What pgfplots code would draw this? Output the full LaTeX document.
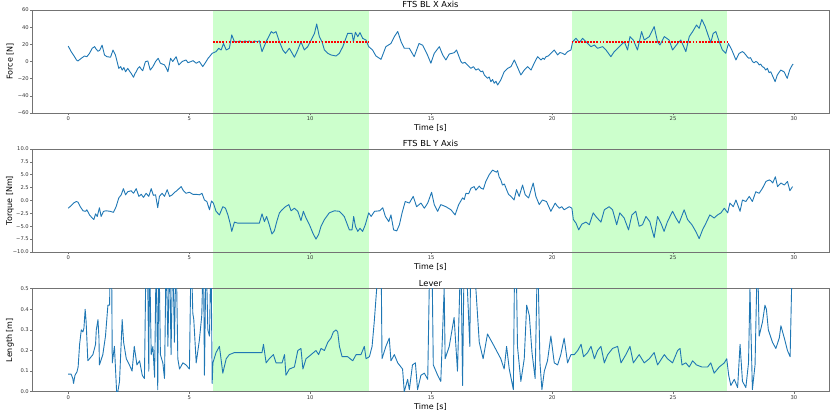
\documentclass[border=0pt]{standalone}
\usepackage{fontspec}
\setmainfont{DejaVu Sans}
\usepackage{pgfplots}
\pgfplotsset{compat=1.18}
\definecolor{mplblue}{RGB}{31,119,180}
\definecolor{mplred}{RGB}{255,0,0}
\definecolor{spangreen}{RGB}{204,255,204}
\pgfplotsset{panel/.style={
  scale only axis, width=797pt, height=103pt, anchor=south west,
  xmin=-1.4975, xmax=31.447,
  xtick={0,5,...,30},
  tick pos=left, tick align=outside, major tick length=2pt,
  axis line style={draw=black!55, line width=0.8pt},
  every tick/.style={black!55, line width=0.6pt},
  tick label style={font=\fontsize{5.2}{6}\selectfont, text=black!80},
  xticklabel style={anchor=north, inner sep=0pt, yshift=-1.5pt},
  yticklabel style={anchor=east, inner sep=0pt, xshift=-1pt},
  /pgf/number format/assume math mode=true,
  xlabel={Time [s]},
  xlabel style={at={(axis description cs:0.5,-0.146)}, anchor=center, font=\fontsize{8}{10}\selectfont},
  ylabel style={at={(axis description cs:-0.0276,0.5)}, anchor=center, font=\fontsize{8}{10}\selectfont},
  every axis title/.style={at={(axis description cs:0.5,1)}, anchor=south, inner sep=0pt, yshift=1.8pt, font=\fontsize{8.3}{10}\selectfont},
  line/.style={mplblue, line width=0.9pt, line join=round},
  meanline/.style={mplred, line width=1.7pt, dash pattern=on 1.8pt off 1.3pt},
}}
\begin{document}
\begin{tikzpicture}
\useasboundingbox (0,0) rectangle (831pt,410pt);
% ---------- top ----------
\begin{axis}[panel, at={(32pt,297pt)}, clip=false, axis on top,
  ymin=-60, ymax=60, ytick={-60,-40,-20,0,20,40,60},
  yticklabels={−60,−40,−20,0,20,40,60},
  ylabel={Force [N]}, title={FTS BL X Axis}]
\addplot[fill=spangreen, draw=none] coordinates {(5.99,60) (12.42,60) (12.42,-384.7) (5.99,-384.7)} -- cycle;
\addplot[fill=spangreen, draw=none] coordinates {(20.81,60) (27.25,60) (27.25,-384.7) (20.81,-384.7)} -- cycle;
\addplot[line] coordinates {
(0,18) (0.12,11.5) (0.26,5.6) (0.34,1.8) (0.4,0.6) (0.54,3.7) (0.67,6.4) (0.77,5.6) (0.88,9.5) (0.99,15.4) (1.09,17.3)
(1.16,14.2) (1.23,12) (1.3,13) (1.4,19) (1.5,7.6) (1.6,5.6) (1.75,5) (1.85,13.4) (1.95,7.6) (2.09,-8)
(2.17,-6) (2.23,-10) (2.3,-7) (2.37,-12) (2.46,-8) (2.53,-11) (2.6,-13.8) (2.7,-18.4) (2.76,-14) (2.81,-12) (2.88,-8) (2.95,-6) (3.02,-9) (3.08,-10.7) (3.19,-0.2) (3.29,0.6)
(3.39,-10) (3.5,-6) (3.61,0) (3.72,3.7) (3.81,-2) (3.98,-4) (4.06,-8) (4.12,-12) (4.23,3.7) (4.32,0) (4.46,5.6)
(4.57,-4) (4.71,0) (4.87,1.8) (4.95,-1.4) (5.08,0) (5.16,1) (5.29,-2) (5.42,0) (5.56,-6) (5.7,0) (5.78,3.7) (5.84,5.6) (5.95,9.5)
(6.11,11.5) (6.22,15.4) (6.32,13.4) (6.42,21) (6.53,13.4) (6.66,15.4) (6.76,31) (6.87,23) (7.0,23) (7.1,24)
(7.2,22) (7.3,24) (7.4,23) (7.5,24) (7.6,22) (7.7,24) (7.8,23) (7.9,24) (8.01,11.5) (8.18,23)
(8.39,34.8) (8.48,33) (8.59,34.8) (8.73,23) (8.87,13.4) (8.98,9.5) (9.14,15.4) (9.35,5) (9.49,13.4) (9.62,23)
(9.76,13.4) (9.9,17.3) (10.04,25) (10.18,32.8) (10.27,43.7) (10.38,29) (10.49,23) (10.59,13.4) (10.73,9.5) (10.86,7.6)
(11.07,6.4) (11.21,9.5) (11.35,17.3) (11.55,32.8) (11.73,32.8) (11.79,23) (11.87,34) (11.97,29) (12.06,33.7) (12.17,27)
(12.31,25) (12.42,17.3) (12.58,13.4) (12.72,6.4) (12.93,2.5) (13.13,17.3) (13.34,21) (13.48,29) (13.62,35) (13.76,23)
(13.89,15.4) (14.1,15.4) (14.3,5.6) (14.5,21) (14.65,19) (14.85,7.6) (14.99,-2) (15.13,9.5) (15.34,17.3) (15.48,7.6)
(15.61,1.8) (15.75,8.7) (15.96,10.3) (16.05,13.4) (16.23,0) (16.3,-2) (16.4,-1) (16.5,-4) (16.64,-8) (16.75,-6) (16.85,-10) (16.95,-8.5) (17.06,-12) (17.13,-11) (17.2,-15.7)
(17.33,-19.6) (17.4,-18) (17.47,-23.5) (17.54,-21) (17.61,-25.4) (17.68,-23) (17.75,-27.4) (17.88,-21.5) (18.02,-12) (18.09,-10) (18.16,-8) (18.3,-6) (18.44,1.8) (18.53,-4)
(18.71,-15.7) (18.85,-10) (18.99,-6) (19.13,-10) (19.26,-2) (19.4,5.6) (19.54,1.8) (19.62,4) (19.68,2.5) (19.75,5.6) (19.85,6.5) (19.95,9.5) (20.09,13.4)
(20.23,7.6) (20.33,10.5) (20.43,9.5) (20.53,8) (20.64,11.5) (20.78,13.4) (20.85,23) (20.99,27) (21.13,22) (21.26,27) (21.4,23) (21.61,17.3)
(21.75,19.2) (21.88,15.4) (22.09,17.3) (22.23,13.4) (22.43,5.6) (22.57,11.5) (22.78,17.3) (22.99,23) (23.12,13.4) (23.22,29)
(23.36,25) (23.53,13.4) (23.7,34.8) (23.81,25) (24.02,29) (24.22,40.6) (24.36,23) (24.46,19.2) (24.64,29) (24.84,25)
(24.98,13.4) (25.19,21) (25.32,25) (25.53,11.5) (25.67,29) (25.81,34.8) (25.97,42.5) (26.08,38.6) (26.19,49) (26.33,40.6)
(26.47,29) (26.56,22) (26.66,32.8) (26.77,34.8) (26.91,23) (27.04,13.4) (27.18,9.5) (27.29,21) (27.43,13.4) (27.6,1.8)
(27.73,9.5) (27.87,11.5) (27.94,10) (28.01,7.6) (28.08,5) (28.14,3.7) (28.2,4.5) (28.28,0) (28.35,-1.5) (28.42,0) (28.49,-1) (28.56,-4) (28.62,-3) (28.69,-6) (28.76,-7) (28.83,-10) (28.9,-8) (28.97,-13) (29.04,-12)
(29.22,-23.5) (29.31,-15.7) (29.45,-10) (29.59,-12) (29.72,-19.6) (29.82,-10) (29.93,-4) (29.97,-3)
};
\addplot[meanline] coordinates {(5.99,22.5) (12.42,22.5)};
\addplot[meanline] coordinates {(20.81,22.5) (27.25,22.5)};
\end{axis}
% ---------- middle ----------
\begin{axis}[panel, at={(32pt,158pt)},
  ymin=-10, ymax=10, ytick={-10,-7.5,-5,-2.5,0,2.5,5,7.5,10},
  yticklabels={−10.0,−7.5,−5.0,−2.5,0.0,2.5,5.0,7.5,10.0},
  ylabel={Torque [Nm]}, title={FTS BL Y Axis}]
\addplot[line] coordinates {
(0,-1.5) (0.12,-1) (0.22,-0.5) (0.33,-0.2) (0.4,-0.3) (0.5,-1.2) (0.61,-2) (0.72,-2.1) (0.77,-1.8) (0.88,-2.8)
(0.99,-3.4) (1.06,-3.7) (1.13,-2.6) (1.2,-3.1) (1.29,-1.4) (1.36,-3.1) (1.46,-2.1) (1.57,-2) (1.73,-2.1) (1.87,-2.3)
(1.98,-1.2) (2.09,0.5) (2.19,1.1) (2.28,2.3) (2.37,1.1) (2.46,1.7) (2.6,1.9) (2.7,1.4) (2.81,2.3) (2.92,0.8)
(3.02,1.2) (3.11,0.6) (3.22,1.4) (3.33,0.8) (3.43,2.3) (3.52,1.0) (3.61,1.1) (3.7,-1.4) (3.77,0.8) (3.88,1.4)
(3.98,0.8) (4.09,2.1) (4.19,0.8) (4.3,1.1) (4.4,1.6) (4.49,1.9) (4.6,2.4) (4.67,2.7) (4.76,1.9) (4.87,1.4)
(5.01,1.6) (5.15,1.2) (5.29,1.2) (5.42,1.1) (5.53,1.4) (5.63,0.1) (5.73,-0.2) (5.84,-1.8) (5.92,-0.1) (6.0,-0.5)
(6.11,-2.1) (6.25,-2.8) (6.39,-1.2) (6.5,-1.5) (6.6,-2.8) (6.69,-4.4) (6.76,-6) (6.87,-4.2) (7.01,-4.4) (7.21,-4.4)
(7.5,-4.4) (7.9,-4.4) (8.01,-2.6) (8.11,-4.1) (8.2,-3.1) (8.31,-4.7) (8.42,-6.5) (8.52,-5.9) (8.62,-4.1) (8.73,-2.4)
(8.84,-1.8) (8.98,-1.2) (9.12,-0.8) (9.21,-2) (9.35,-1.5) (9.49,-2.1) (9.62,-3.9) (9.72,-2.1) (9.83,-3.4) (9.97,-4.7)
(10.11,-6.3) (10.24,-7.5) (10.35,-6.6) (10.45,-5) (10.59,-3.7) (10.79,-2.4) (11.0,-2) (11.21,-2.1) (11.41,-3.1) (11.62,-5.7)
(11.73,-5.7) (11.8,-3.1) (11.87,-5) (11.97,-6) (12.06,-5.4) (12.17,-6) (12.28,-4.7) (12.42,-2.4) (12.52,-3.1) (12.66,-2.1)
(12.87,-2) (13.0,-1.4) (13.11,-3.1) (13.25,-4.1) (13.34,-2.8) (13.45,-5.7) (13.58,-5.9) (13.69,-4.7) (13.8,-2.4) (13.93,-0.2)
(14.1,-0.5) (14.26,0.8) (14.4,-1.2) (14.58,-0.5) (14.72,-1.5) (14.86,-0.5) (15.02,1.6) (15.13,-0.8) (15.27,-2.1) (15.4,-0.8)
(15.61,-1.2) (15.82,-1.8) (15.99,-2.8) (16.14,-0.8) (16.3,0.5) (16.37,0.2) (16.44,1.4) (16.55,1.3) (16.65,2.4) (16.78,2.7) (16.85,2.0) (16.92,2.4) (16.99,2.8) (17.06,2.4) (17.16,2.2)
(17.26,3.7) (17.4,5.0) (17.54,5.9) (17.7,5.5) (17.75,5.8) (17.81,4.6) (17.88,4.0) (17.95,3.0) (18.03,3.2) (18.12,2.1) (18.2,1.2) (18.3,0.8) (18.43,0.1) (18.53,2.1)
(18.64,0.8) (18.78,3.0) (18.89,1.1) (19.03,0.5) (19.22,3.4) (19.33,0.8) (19.47,-0.8) (19.6,0.1) (19.77,-0.2) (19.95,-2.1)
(20.13,-0.5) (20.2,-1.0) (20.3,-1.5) (20.4,-1.2) (20.5,-1.8) (20.71,-1.2) (20.82,-1.5) (20.88,-3.7) (20.99,-4.4) (21.1,-5.7) (21.23,-4.6) (21.4,-4.2)
(21.54,-4.7) (21.7,-2.4) (21.81,-3.1) (22.02,-4.2) (22.16,-1.8) (22.36,-1.2) (22.5,-1.8) (22.67,-4.7) (22.8,-2.4) (22.98,-3.4)
(23.16,-5.7) (23.3,-2.8) (23.46,-2.1) (23.6,-5) (23.74,-4.7) (23.88,-3.1) (24.04,-4.1) (24.22,-7.2) (24.36,-3.1) (24.5,-4.4)
(24.63,-6) (24.77,-4.1) (24.98,-2.1) (25.12,-3.4) (25.25,-4.4) (25.46,-1.8) (25.6,-3.7) (25.78,-4.7) (25.94,-6) (26.08,-7.4)
(26.22,-5.7) (26.36,-4.4) (26.52,-2.8) (26.7,-3.4) (26.84,-2.8) (26.98,-2.4) (27.12,-1.5) (27.26,-2.4) (27.35,-0.5) (27.49,-1.2)
(27.6,0.1) (27.77,-2.1) (27.87,0.1) (28.01,-0.2) (28.15,0.8) (28.28,-0.2) (28.42,1.7) (28.56,1.4) (28.7,2.4) (28.84,3.7)
(28.98,4.0) (29.05,3.8) (29.12,3.4) (29.23,4.6) (29.32,2.7) (29.46,3.4) (29.6,3.0) (29.73,3.7) (29.83,1.9) (29.94,2.7)
};
\end{axis}
% ---------- bottom ----------
\begin{axis}[panel, at={(32pt,18.3pt)},
  ymin=0, ymax=0.5, ytick={0,0.1,0.2,0.3,0.4,0.5},
  yticklabels={0.0,0.1,0.2,0.3,0.4,0.5},
  ylabel={Length [m]}, title={Lever}]
\addplot[line] coordinates {
(0,0.085) (0.12,0.085) (0.19,0.064) (0.22,0.04) (0.28,0.08) (0.36,0.096) (0.41,0.12) (0.47,0.23) (0.54,0.30) (0.61,0.29)
(0.65,0.31) (0.7,0.40) (0.74,0.34) (0.81,0.15) (1.02,0.18) (1.13,0.23) (1.16,0.30) (1.23,0.35) (1.27,0.26) (1.29,0.13)
(1.43,0.18) (1.54,0.27) (1.64,0.42) (1.71,0.42) (1.74,0.7) (1.79,0.7) (1.82,0.14) (1.91,0.22) (2.0,0.0) (2.05,0.0)
(2.12,0.05) (2.23,0.35) (2.29,0.24) (2.4,0.16) (2.53,0.13) (2.64,0.10) (2.73,0.22) (2.84,0.13) (2.95,0.15) (3.06,0.08)
(3.15,0.064) (3.22,0.7) (3.29,0.5) (3.33,0.1) (3.36,0.7) (3.43,0.18) (3.5,0.22) (3.57,0.07) (3.64,0.7) (3.7,0.01)
(3.75,0.7) (3.81,0.18) (3.91,0.14) (3.98,0.064) (4.05,0.7) (4.12,0.22) (4.19,0.7) (4.25,0.18) (4.32,0.7) (4.39,0.24)
(4.46,0.7) (4.53,0.16) (4.6,0.11) (4.74,0.14) (4.87,0.13) (5.01,0.11) (5.08,0.7) (5.15,0.38) (5.19,0.35) (5.29,0.14)
(5.42,0.25) (5.52,0.37) (5.59,0.7) (5.63,0.08) (5.7,0.7) (5.77,0.30) (5.84,0.27) (5.9,0.7) (5.95,0.04) (5.98,0.14)
(6.11,0.19) (6.25,0.22) (6.39,0.09) (6.53,0.16) (6.66,0.18) (6.87,0.19) (8.01,0.19) (8.07,0.23) (8.18,0.14) (8.31,0.16)
(8.48,0.18) (8.59,0.14) (8.84,0.14) (8.94,0.18) (9.0,0.08) (9.14,0.11) (9.35,0.12) (9.49,0.2) (9.62,0.21) (9.7,0.11)
(9.83,0.16) (10.04,0.18) (10.24,0.2) (10.35,0.18) (10.45,0.21) (10.59,0.2) (10.73,0.24) (10.86,0.26) (10.96,0.29) (11.07,0.3)
(11.14,0.29) (11.21,0.22) (11.32,0.17) (11.55,0.17) (11.76,0.15) (11.9,0.18) (12.1,0.18) (12.24,0.22) (12.31,0.16) (12.45,0.17)
(12.56,0.22) (12.65,0.34) (12.75,0.5) (12.79,0.7) (12.93,0.7) (12.97,0.16) (13.13,0.22) (13.27,0.26) (13.34,0.15) (13.48,0.18)
(13.62,0.14) (13.82,0.11) (13.89,0.0) (14.03,0.06) (14.1,0.01) (14.23,0.13) (14.35,0.14) (14.44,0.01) (14.58,0.08) (14.72,0.09)
(14.86,0.06) (14.95,0.7) (15.03,0.7) (15.09,0.13) (15.27,0.08) (15.4,0.05) (15.54,0.5) (15.58,0.16) (15.75,0.22) (15.95,0.36)
(16.09,0.1) (16.23,0.7) (16.3,0.03) (16.37,0.7) (16.5,0.5) (16.6,0.22) (16.64,0.7) (16.85,0.5) (16.99,0.24) (17.15,0.16)
(17.33,0.28) (17.61,0.22) (17.88,0.16) (18.02,0.11) (18.12,0.22) (18.23,0.11) (18.4,0.01) (18.44,0.5) (18.51,0.7) (18.57,0.22)
(18.71,0.05) (18.85,0.16) (18.95,0.42) (19.06,0.37) (19.17,0.19) (19.3,0.064) (19.4,0.7) (19.5,0.14) (19.58,0.01) (19.68,0.1)
(19.81,0.15) (19.95,0.27) (20.09,0.14) (20.23,0.13) (20.36,0.18) (20.5,0.26) (20.64,0.14) (20.78,0.18) (20.92,0.18) (21.06,0.2)
(21.2,0.23) (21.3,0.17) (21.47,0.19) (21.61,0.22) (21.75,0.16) (21.88,0.2) (22.02,0.22) (22.16,0.14) (22.3,0.18) (22.5,0.21)
(22.71,0.22) (22.85,0.14) (23.05,0.18) (23.22,0.22) (23.36,0.14) (23.6,0.18) (23.81,0.14) (24.02,0.16) (24.22,0.19) (24.36,0.13)
(24.64,0.18) (24.77,0.16) (24.98,0.14) (25.19,0.2) (25.29,0.21) (25.37,0.13) (25.53,0.14) (25.67,0.12) (25.81,0.15) (25.97,0.13)
(26.19,0.12) (26.43,0.12) (26.56,0.14) (26.7,0.09) (26.91,0.12) (27.12,0.14) (27.22,0.16) (27.3,0.08) (27.39,0.03) (27.53,0.06)
(27.67,0.02) (27.77,0.23) (27.87,0.05) (28.01,0.02) (28.12,0.14) (28.18,0.5) (28.28,0.01) (28.39,0.13) (28.49,0.7) (28.56,0.27)
(28.7,0.34) (28.8,0.42) (28.86,0.4) (28.94,0.3) (29.11,0.24) (29.25,0.21) (29.39,0.26) (29.46,0.32) (29.6,0.26) (29.73,0.2)
(29.84,0.17) (29.9,0.5) (29.97,0.7)
};
\end{axis}
\end{tikzpicture}
\end{document}
